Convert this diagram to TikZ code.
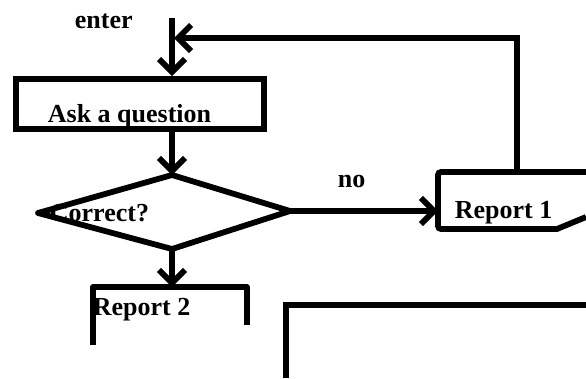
\documentclass[tikz,border=0pt]{standalone}
\usepackage{fontspec}
\setmainfont{Liberation Serif}
\usetikzlibrary{arrows.meta}
\begin{document}
\begin{tikzpicture}[x=1pt,y=-1pt,
  line width=5.8pt,
  lbl/.style={font=\fontsize{26}{30}\selectfont\bfseries, inner sep=0pt, anchor=base west},
  flow/.style={-{Straight Barb[length=13pt,width=26pt]}},
  box/.style={draw, rectangle, inner sep=0pt, minimum width=248pt, minimum height=50pt},
]
\useasboundingbox (0,0) rectangle (586,378);
\clip (0,0) rectangle (586,378);

% entry point and the first step
\coordinate (entry) at (172,18);
\node[box] (ask) at (140,104) {};
\node[lbl] (enter) at (72,28) {enter};
\node[lbl] (asktxt) at (45,122) {Ask a question};

% decision
\coordinate (dT) at (172,175);
\coordinate (dR) at (290,211);
\coordinate (dB) at (172,249);
\coordinate (dL) at (38,213);
\draw[line join=round] (dT) -- (dR) -- (dB) -- (dL) -- cycle;
\node[lbl] (correct) at (47,221) {Correct?};

% report 1 (clipped on the right)
\coordinate (r1in) at (438,211);
\coordinate (r1up) at (517,172);
\draw (586,172) [rounded corners=3pt] -- (438,172) -- (438,229) [sharp corners] -- (557,229) -- (586,217);
\node[lbl] (rep1) at (452,218) {Report 1};
\node[lbl] (no) at (335,187) {no};

% report 2 (open at the bottom)
\coordinate (r2in) at (172,287);
\draw[line join=round] (93,345) -- (93,287) -- (247,287) -- (247,325);
\node[lbl] (rep2) at (90,315) {Report 2};

% further frame, bottom right
\coordinate (f1) at (286,305);
\draw (286,378) -- (f1) -- (586,305);

% connectors
\draw[flow] (entry) -- (ask.north -| entry);
\draw[flow] (ask.south -| dT) -- (dT);
\draw[flow] (dB) -- (r2in);
\draw[flow] (dR) -- (r1in);
\coordinate (loopin) at (174,38);
\draw[flow] (r1up) |- (loopin);
\end{tikzpicture}
\end{document}
